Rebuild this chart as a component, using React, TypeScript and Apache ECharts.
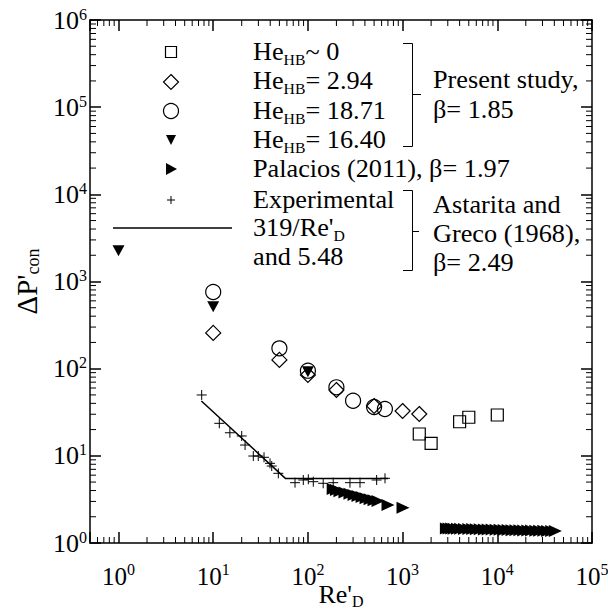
import React, { useEffect, useRef } from "react";
import * as echarts from "echarts";

// ---------- data ----------
const squareRe = [1500, 2000, 4000, 5000, 10000];
const squareDP = [17.8, 13.9, 24.6, 27.7, 29.4];

const diamondRe = [10, 50, 100, 200, 500, 1000, 1500];
const diamondDP = [257, 126, 84.6, 56.9, 37.3, 32.7, 30.2];

const circleRe = [10, 50, 100, 200, 300, 500, 650];
const circleDP = [757, 171, 94.8, 61.1, 42.9, 36.3, 34.5];

const triDownRe = [1, 10, 100];
const triDownDP = [2255, 514, 92.3];

const palaciosRe = [
  185, 200, 218, 246, 278, 307, 338, 373, 411, 453, 499, 550, 701, 1010,
  2900, 3100, 3300, 3500, 3800, 4100, 4500, 5000, 5500, 6000, 6600, 7300, 8000, 8800,
  9700, 10700, 11800, 13000, 14300, 15700, 17300, 19000, 21000, 23000, 25500, 28000,
  31000, 34000, 37500, 41000,
];
const palaciosDP = [
  4.16, 4.05, 3.92, 3.8, 3.68, 3.56, 3.45, 3.36, 3.27, 3.18, 3.1, 3.03, 2.73, 2.54,
  1.47, 1.47, 1.47, 1.46, 1.46, 1.46, 1.45, 1.45, 1.45, 1.44, 1.44, 1.43, 1.43, 1.43,
  1.42, 1.42, 1.41, 1.41, 1.4, 1.4, 1.4, 1.39, 1.39, 1.39, 1.38, 1.38,
  1.38, 1.37, 1.37, 1.37,
];

const expRe = [
  7.56, 11.6, 15.0, 20.0, 21.7, 26.5, 29.9, 34.4, 39.8, 41.5, 48.7,
  73.1, 89.4, 101, 114, 145, 185, 278, 355, 532, 652,
];
const expDP = [
  49.9, 23.6, 18.4, 16.9, 13.3, 9.95, 9.95, 9.62, 8.2, 7.64, 6.3,
  4.92, 5.28, 5.38, 5.05, 4.84, 4.92, 4.92, 4.92, 5.28, 5.52,
];

const corrRe = [7.5, 58.2, 700];
const corrDP = [42.5, 5.48, 5.48];

const xMinorTicks = [
  0.6, 0.7, 0.8, 0.9,
  2, 3, 4, 5, 6, 7, 8, 9,
  20, 30, 40, 50, 60, 70, 80, 90,
  200, 300, 400, 500, 600, 700, 800, 900,
  2000, 3000, 4000, 5000, 6000, 7000, 8000, 9000,
  20000, 30000, 40000, 50000, 60000, 70000, 80000, 90000,
];
const yMinorTicks = [
  2, 3, 4, 5, 6, 7, 8, 9,
  20, 30, 40, 50, 60, 70, 80, 90,
  200, 300, 400, 500, 600, 700, 800, 900,
  2000, 3000, 4000, 5000, 6000, 7000, 8000, 9000,
  20000, 30000, 40000, 50000, 60000, 70000, 80000, 90000,
  200000, 300000, 400000, 500000, 600000, 700000, 800000, 900000,
];

const legendLines = [
  "{a|He}{s|HB}{a|~ 0}",
  "{a|He}{s|HB}{a|= 2.94}",
  "{a|He}{s|HB}{a|= 18.71}",
  "{a|He}{s|HB}{a|= 16.40}",
  "{a|Palacios (2011), β= 1.97}",
  "{a|Experimental}",
  "{a|319/Re'}{s|D}",
  "{a|and 5.48}",
];
const rightLines1 = ["Present study,", "β= 1.85"];
const rightLines2 = ["Astarita and", "Greco (1968),", "β= 2.49"];

const FONT = "Liberation Serif";

const zip = (a: number[], b: number[]) => a.map((v, i) => [v, b[i]]);

function powLabel(v: number) {
  const l = Math.log10(v);
  const r = Math.round(l);
  if (Math.abs(l - r) > 1e-6) return "";
  return "{b|10}{sup|" + r + "}";
}

const richMain = (size: number, lh: number) => ({
  b: { fontSize: size, fontFamily: FONT, color: "#000", lineHeight: lh },
  sup: { fontSize: 16, fontFamily: FONT, color: "#000", lineHeight: 16, verticalAlign: "top" },
});

const richSub = {
  a: { fontSize: 25, fontFamily: FONT, color: "#000", lineHeight: 30 },
  s: { fontSize: 15, fontFamily: FONT, color: "#000", lineHeight: 15, verticalAlign: "bottom" },
};

function minorTickRenderer(axis: "x" | "y") {
  return (params: any, api: any) => {
    const cs = params.coordSys;
    const v = api.value(axis === "x" ? 0 : 1);
    const st = { stroke: "#000", lineWidth: 1 };
    const L = 6;
    if (axis === "x") {
      const x = api.coord([v, 1])[0];
      const b = cs.y + cs.height;
      return {
        type: "group",
        children: [
          { type: "line", shape: { x1: x, y1: b, x2: x, y2: b - L }, style: st },
          { type: "line", shape: { x1: x, y1: cs.y, x2: x, y2: cs.y + L }, style: st },
        ],
      };
    }
    const y = api.coord([1, v])[1];
    const r = cs.x + cs.width;
    return {
      type: "group",
      children: [
        { type: "line", shape: { x1: cs.x, y1: y, x2: cs.x + L, y2: y }, style: st },
        { type: "line", shape: { x1: r, y1: y, x2: r - L, y2: y }, style: st },
      ],
    };
  };
}

export default function App() {
  const ref = useRef<HTMLDivElement>(null);
  useEffect(() => {
    if (!ref.current) return;
    const chart = echarts.init(ref.current, null, { renderer: "svg" });
    const axisLine = { show: true, onZero: false, lineStyle: { color: "#000", width: 1.5 } };
    const tick = { show: true, inside: true, length: 11, lineStyle: { color: "#000", width: 1.5 } };
    const black = { color: "#000", opacity: 1 };
    const open = { color: "rgba(0,0,0,0)", borderColor: "#000", borderWidth: 1.2, opacity: 1 };

    const gText = (x: number, y: number, text: string, rich?: any) => ({
      type: "text",
      x,
      y,
      scaleX: 1.05,
      style: {
        text,
        fill: "#000",
        fontSize: 25,
        fontFamily: FONT,
        verticalAlign: "middle",
        align: "left",
        rich,
      },
    });
    const ln = (x1: number, y1: number, x2: number, y2: number, w = 1) => ({
      type: "line",
      shape: { x1, y1, x2, y2 },
      style: { stroke: "#000", lineWidth: w },
    });
    const rowY = [52, 81, 111, 140, 169, 200, 228, 257];

    const graphic: any[] = [
      // legend symbols
      { type: "rect", shape: { x: 165.5, y: 46.5, width: 11, height: 11 }, style: { fill: "none", stroke: "#000", lineWidth: 1.2 } },
      { type: "polygon", shape: { points: [[171, 74.5], [178.5, 82], [171, 89.5], [163.5, 82]] }, style: { fill: "none", stroke: "#000", lineWidth: 1.2 } },
      { type: "circle", shape: { cx: 171, cy: 111, r: 7.5 }, style: { fill: "none", stroke: "#000", lineWidth: 1.2 } },
      { type: "polygon", shape: { points: [[166, 135], [176, 135], [171, 145]] }, style: { fill: "#000" } },
      { type: "polygon", shape: { points: [[166, 163], [177, 169], [166, 175]] }, style: { fill: "#000" } },
      ln(167, 200, 175, 200),
      ln(171, 196, 171, 204),
      ln(113, 228, 232, 228, 1.5),
      // braces
      ln(403, 43.5, 412.5, 43.5),
      ln(412.5, 43.5, 412.5, 146.5),
      ln(403, 146.5, 412.5, 146.5),
      ln(412.5, 94.5, 421, 94.5),
      ln(403, 190.5, 412.5, 190.5),
      ln(412.5, 190.5, 412.5, 270.5),
      ln(403, 270.5, 412.5, 270.5),
      ln(412.5, 231.5, 419, 231.5),
    ];
    legendLines.forEach((t, i) => graphic.push(gText(253, rowY[i], t, richSub)));
    rightLines1.forEach((t, i) => graphic.push(gText(433, 80 + i * 30, t)));
    rightLines2.forEach((t, i) => graphic.push(gText(433, 205 + i * 29, t)));

    const nameRich = {
      a: { fontSize: 26, fontFamily: FONT, color: "#000", lineHeight: 30 },
      s: { fontSize: 16, fontFamily: FONT, color: "#000", lineHeight: 15, verticalAlign: "bottom" },
    };

    const option: any = {
      animation: false,
      backgroundColor: "#fff",
      grid: { left: 90, right: 16, top: 20, bottom: 67, containLabel: false, outerBoundsMode: "none" },
      xAxis: [
        {
          type: "log",
          logBase: 10,
          min: 0.5,
          max: 100000,
          position: "bottom",
          axisLine,
          axisTick: tick,
          splitLine: { show: false },
          axisLabel: {
            formatter: powLabel,
            margin: 18,
            fontFamily: FONT,
            rich: richMain(25, 30),
            showMinLabel: true,
            showMaxLabel: true,
            hideOverlap: false,
          },
          name: "{a|Re'}{s|D}",
          nameLocation: "middle",
          nameGap: 36,
          nameMoveOverlap: false,
          nameTextStyle: { fontFamily: FONT, rich: nameRich },
        },
        {
          type: "log",
          logBase: 10,
          min: 0.5,
          max: 100000,
          position: "top",
          axisLine,
          axisTick: tick,
          splitLine: { show: false },
          axisLabel: { show: false },
        },
      ],
      yAxis: [
        {
          type: "log",
          logBase: 10,
          min: 1,
          max: 1000000,
          position: "left",
          axisLine,
          axisTick: tick,
          splitLine: { show: false },
          axisLabel: {
            formatter: powLabel,
            margin: 3,
            fontFamily: FONT,
            rich: richMain(26, 28),
            showMinLabel: true,
            showMaxLabel: true,
          },
          name: "{a|ΔP'}{s|con}",
          nameLocation: "middle",
          nameRotate: 90,
          nameGap: 44,
          nameTextStyle: { fontFamily: FONT, rich: { a: { fontSize: 29, fontFamily: FONT, color: "#000", lineHeight: 30 }, s: { fontSize: 18, fontFamily: FONT, color: "#000", lineHeight: 15, verticalAlign: "bottom" } } },
        },
        {
          type: "log",
          logBase: 10,
          min: 1,
          max: 1000000,
          position: "right",
          axisLine,
          axisTick: tick,
          splitLine: { show: false },
          axisLabel: { show: false },
        },
      ],
      graphic,
      series: [
        { type: "custom", xAxisIndex: 0, yAxisIndex: 0, silent: true, data: xMinorTicks.map((v) => [v, 1]), renderItem: minorTickRenderer("x"), z: 1 },
        { type: "custom", xAxisIndex: 0, yAxisIndex: 0, silent: true, data: yMinorTicks.map((v) => [1, v]), renderItem: minorTickRenderer("y"), z: 1 },
        {
          type: "line",
          data: zip(corrRe, corrDP),
          symbol: "none",
          lineStyle: { color: "#000", width: 1.5 },
          z: 2,
        },
        { type: "scatter", data: zip(squareRe, squareDP), symbol: "rect", symbolSize: 12, itemStyle: open, z: 3 },
        { type: "scatter", data: zip(diamondRe, diamondDP), symbol: "diamond", symbolSize: 15, itemStyle: open, z: 3 },
        { type: "scatter", data: zip(circleRe, circleDP), symbol: "circle", symbolSize: 15, itemStyle: open, z: 3 },
        { type: "scatter", data: zip(triDownRe, triDownDP), symbol: "triangle", symbolRotate: 180, symbolSize: [12, 11], itemStyle: black, z: 4 },
        { type: "scatter", data: zip(palaciosRe, palaciosDP), symbol: "triangle", symbolRotate: -90, symbolSize: [12, 13], itemStyle: black, z: 4 },
        {
          type: "scatter",
          data: zip(expRe, expDP),
          symbol: "path://M0,5L10,5M5,0L5,10",
          symbolSize: 10,
          itemStyle: { color: "none", borderColor: "#000", borderWidth: 1, opacity: 1 },
          z: 4,
        },
      ],
    };
    chart.setOption(option);
    return () => chart.dispose();
  }, []);
  return <div ref={ref} style={{ width: 608, height: 610, position: "absolute", left: 0, top: 0 }} />;
}
